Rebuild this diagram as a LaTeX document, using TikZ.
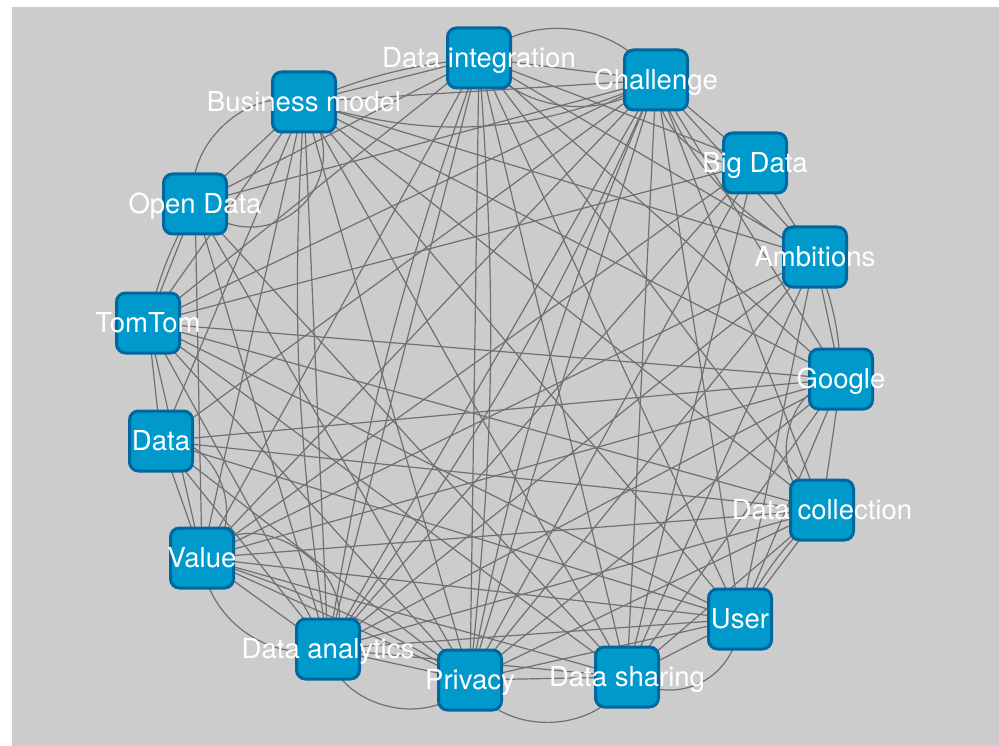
\documentclass[tikz,border=0pt]{standalone}
\usepackage{fontspec}
\setmainfont{TeX Gyre Heros}
\usetikzlibrary{backgrounds}
\definecolor{boxfill}{RGB}{0,153,204}
\definecolor{boxline}{RGB}{0,104,158}
\definecolor{linkgray}{RGB}{112,112,112}
\definecolor{canvas}{RGB}{204,204,204}

\begin{document}
\begin{tikzpicture}[x=1pt,y=1pt,
    topic/.style={draw=boxline,fill=boxfill,line width=3pt,rounded corners=9pt,
      minimum width=63pt,minimum height=60pt,inner sep=0pt},
    tag/.style={text=white,font=\fontsize{27.5}{30}\selectfont,inner sep=0pt,
      text height=19.7pt,text depth=0pt},
    link/.style={draw=linkgray,line width=1.2pt}]
        \useasboundingbox (0,0) rectangle (999,-746);
        \node[topic,label={[tag]center:Data integration}] (integ) at (479,-58) {};
        \node[topic,label={[tag]center:Challenge}] (chall) at (656,-80) {};
        \node[topic,label={[tag]center:Big Data}] (bigdata) at (755,-163) {};
        \node[topic,label={[tag]center:Ambitions}] (ambit) at (815,-257) {};
        \node[topic,label={[tag]center:Google}] (google) at (841,-379) {};
        \node[topic,label={[tag]center:Data collection}] (collect) at (822,-510) {};
        \node[topic,label={[tag]center:User}] (user) at (740,-619) {};
        \node[topic,label={[tag]center:Data sharing}] (sharing) at (627,-677) {};
        \node[topic,label={[tag]center:Privacy}] (privacy) at (470,-680) {};
        \node[topic,label={[tag]center:Data analytics}] (analytics) at (328,-649) {};
        \node[topic,label={[tag]center:Value}] (value) at (202,-558) {};
        \node[topic,label={[tag]center:Data}] (data) at (161,-441) {};
        \node[topic,label={[tag]center:TomTom}] (tomtom) at (148,-323) {};
        \node[topic,label={[tag]center:Open Data}] (opendata) at (195,-204) {};
        \node[topic,label={[tag]center:Business model}] (business) at (304,-102) {};

        \begin{pgfonlayer}{background}
        \fill[canvas] (12,-7) rectangle (999,-746);
        % straight links
        \foreach \a/\b in {integ/chall,chall/bigdata,bigdata/ambit,ambit/google,
            google/collect,collect/user,user/sharing,sharing/privacy,
            privacy/analytics,analytics/value,value/data,data/tomtom,
            tomtom/opendata,opendata/business,business/integ,
            chall/opendata,chall/tomtom,chall/data,chall/value,chall/analytics,
            chall/privacy,chall/sharing,chall/user,chall/collect,chall/google,
            chall/ambit,chall/business,
            business/tomtom,business/data,business/value,business/analytics,
            business/privacy,business/sharing,business/user,business/collect,
            business/google,business/ambit,
            integ/opendata,integ/tomtom,integ/value,integ/analytics,integ/privacy,
            integ/sharing,integ/user,integ/collect,integ/google,integ/bigdata,
            integ/ambit,
            opendata/value,opendata/analytics,opendata/privacy,opendata/sharing,
            tomtom/bigdata,tomtom/google,tomtom/collect,tomtom/user,tomtom/sharing,
            tomtom/privacy,tomtom/analytics,tomtom/value,
            data/google,data/user,data/collect,data/privacy,data/analytics,
            value/privacy,value/sharing,value/user,value/collect,value/google,
            value/ambit,value/bigdata,
            analytics/bigdata,analytics/ambit,analytics/google,analytics/collect,
            analytics/user,analytics/sharing,
            privacy/bigdata,privacy/ambit,privacy/google,privacy/collect,
            privacy/user,
            sharing/bigdata,sharing/ambit,sharing/google,sharing/collect,
            user/google,ambit/user}
          \draw[link] (\a.center) -- (\b.center);
        % bent links
        \draw[link] (integ.center) to[bend left=50] (chall.center);
        \draw[link] (integ.center) to[bend right=45] (chall.center);
        \draw[link] (chall.center) to[bend right=50] (bigdata.center);
        \draw[link] (chall.center) to[bend right=20] (ambit.center);
        \draw[link] (chall.center) to[bend left=20] (business.center);
        \draw[link] (ambit.center) to[bend left=10] (google.center);
        \draw[link] (google.center) to[bend right=75,looseness=1.2] (collect.center);
        \draw[link] (collect.center) to[bend right=10] (user.center);
        \draw[link] (user.center) to[bend left=60,looseness=1.2] (sharing.center);
        \draw[link] (sharing.center) to[bend left=65,looseness=1.05] (privacy.center);
        \draw[link] (privacy.center) to[bend left=70,looseness=1.08] (analytics.center);
        \draw[link] (analytics.center) to[bend left=50] (value.center);
        \draw[link] (value.center) to[bend left=90,looseness=1.4] (analytics.center);
        \draw[link] (data.center) to[bend left=80,looseness=1.2] (value.center);
        \draw[link] (tomtom.center) to[bend left=8] (opendata.center);
        \draw[link] (opendata.center) to[bend left=60] (business.center);
        \draw[link] (opendata.center) to[bend right=85,looseness=1.7] (business.center);
        \draw[link] (business.center) to[bend left=8] (integ.center);
        \draw[link] (chall.center) to[bend left=6] (analytics.center);
        \draw[link] (chall.center) to[bend right=6] (privacy.center);
        \draw[link] (business.center) to[bend right=6] (analytics.center);
        \draw[link] (integ.center) to[bend left=5] (privacy.center);
        \draw[link] (integ.center) to[bend right=5] (analytics.center);
        \draw[link] (value.center) to[bend left=6] (privacy.center);
        \end{pgfonlayer}
\end{tikzpicture}
\end{document}
